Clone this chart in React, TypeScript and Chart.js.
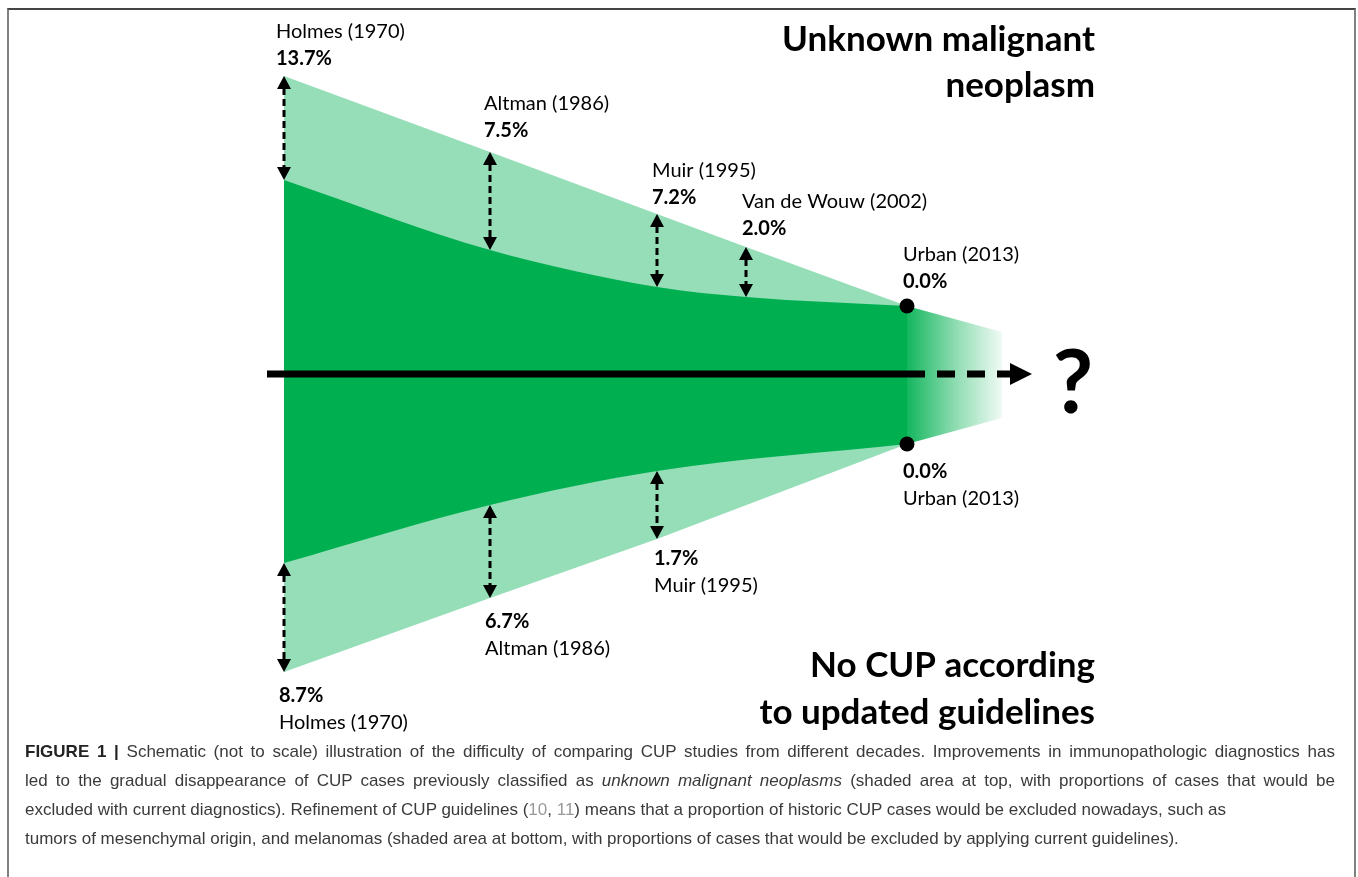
import React, { useEffect, useRef } from 'react';
import { Chart, registerables } from 'chart.js';

Chart.register(...registerables);

// ---- data (schematic, not to scale) ----
const studies = ['Holmes (1970)', 'Altman (1986)', 'Muir (1995)', 'Van de Wouw (2002)', 'Urban (2013)'];
const studyPos = [0, 206, 373, 462, 623];
const topPct: (number | null)[] = [13.7, 7.5, 7.2, 2.0, 0.0];
const bottomPct: (number | null)[] = [8.7, 6.7, 1.7, null, 0.0];
const topOuter = [298, 222, 160, 127, 68];
const topInner = [194, 124, 87, 77, 68];
const bottomInner: (number | null)[] = [-189, -131, -97, null, -70];
const bottomOuter: (number | null)[] = [-298, -224, -165, null, -70];
const fadePos = [623, 718];
const fadeTop = [68, 42];
const fadeBottom = [-70, -44];
const axisPos = [-17, 623, 748];

const DARK = 'rgb(0,176,80)';
const LIGHT = 'rgb(149,222,184)';

const pts = (xs: number[], ys: (number | null)[]) =>
  xs.map((x, i) => (ys[i] == null ? null : { x, y: ys[i] as number })).filter(Boolean) as { x: number; y: number }[];

const fmt = (v: number) => v.toFixed(1) + '%';

const annotations = {
  id: 'annotations',
  afterDatasetsDraw(chart: any, _args: any, opts: any) {
    const { ctx, scales } = chart;
    const X = (v: number) => scales.x.getPixelForValue(v);
    const Y = (v: number) => scales.y.getPixelForValue(v);
    ctx.save();

    // axis arrow head
    const tip = X(axisPos[2]);
    const ay = Y(0);
    ctx.fillStyle = '#000';
    ctx.beginPath();
    ctx.moveTo(tip, ay);
    ctx.lineTo(tip - 22, ay - 11);
    ctx.lineTo(tip - 22, ay + 11);
    ctx.closePath();
    ctx.fill();

    const vArrow = (xv: number, a: number, b: number) => {
      const px = X(xv);
      const top = Math.min(Y(a), Y(b));
      const bot = Math.max(Y(a), Y(b));
      const h = 13, w = 7;
      ctx.strokeStyle = '#000';
      ctx.lineWidth = 3;
      ctx.setLineDash([7, 4]);
      ctx.beginPath();
      ctx.moveTo(px, top + h - 1);
      ctx.lineTo(px, bot - h + 1);
      ctx.stroke();
      ctx.setLineDash([]);
      ctx.beginPath();
      ctx.moveTo(px, top);
      ctx.lineTo(px - w, top + h);
      ctx.lineTo(px + w, top + h);
      ctx.closePath();
      ctx.fill();
      ctx.beginPath();
      ctx.moveTo(px, bot);
      ctx.lineTo(px - w, bot - h);
      ctx.lineTo(px + w, bot - h);
      ctx.closePath();
      ctx.fill();
    };
    const dot = (xv: number, yv: number) => {
      ctx.beginPath();
      ctx.arc(X(xv), Y(yv), 7.5, 0, Math.PI * 2);
      ctx.fill();
    };

    ctx.textBaseline = 'alphabetic';
    ctx.textAlign = 'left';
    studies.forEach((name, i) => {
      const p = topPct[i];
      if (p != null) {
        if (p > 0) vArrow(studyPos[i], topOuter[i], topInner[i]);
        else dot(studyPos[i], topOuter[i]);
        const lx = X(studyPos[i]) + opts.topDx[i];
        const base = Y(topOuter[i]) - opts.topLift[i];
        ctx.fillStyle = '#000';
        ctx.font = 'bold 20px Lato';
        ctx.fillText(fmt(p), lx, base);
        ctx.font = '20px Lato';
        ctx.fillText(name, lx, base - 27);
      }
      const q = bottomPct[i];
      if (q != null) {
        const bo = bottomOuter[i] as number;
        const bi = bottomInner[i] as number;
        if (q > 0) vArrow(studyPos[i], bo, bi);
        else dot(studyPos[i], bo);
        const lx = X(studyPos[i]) + opts.botDx[i];
        const base = Y(bo) + opts.botDrop[i];
        ctx.fillStyle = '#000';
        ctx.font = 'bold 20px Lato';
        ctx.fillText(fmt(q), lx, base);
        ctx.font = '20px Lato';
        ctx.fillText(name, lx, base + 27);
      }
    });

    // titles
    ctx.fillStyle = '#000';
    ctx.textAlign = 'right';
    ctx.font = 'bold 35px Lato';
    opts.titles.forEach((t: any) => ctx.fillText(t.text, X(t.x), Y(t.y)));
    ctx.textAlign = 'center';
    ctx.font = 'bold 88px Lato';
    ctx.fillText('?', X(opts.q.x), Y(opts.q.y));
    ctx.restore();
  },
};

function FigureChart() {
  const ref = useRef<HTMLCanvasElement | null>(null);
  useEffect(() => {
    if (!ref.current) return;
    const fadeFill = (c: any) => {
      const ch = c.chart;
      if (!ch.chartArea) return DARK;
      const x0 = ch.scales.x.getPixelForValue(fadePos[0]);
      const x1 = ch.scales.x.getPixelForValue(fadePos[1]);
      const g = ch.ctx.createLinearGradient(x0, 0, x1, 0);
      g.addColorStop(0, 'rgba(0,176,80,0.92)');
      g.addColorStop(0.5, 'rgba(0,176,80,0.45)');
      g.addColorStop(1, 'rgba(0,176,80,0.06)');
      return g;
    };
    const area = (data: any, color: any, order: number, monotone: boolean) => ({
      data,
      fill: 'origin',
      backgroundColor: color,
      borderWidth: 0,
      borderColor: 'rgba(0,0,0,0)',
      pointRadius: 0,
      order,
      tension: monotone ? 0.4 : 0,
      cubicInterpolationMode: monotone ? 'monotone' : 'default',
    });
    const chart = new Chart(ref.current, {
      type: 'line',
      data: {
        datasets: [
          area(pts(studyPos, topOuter), LIGHT, 5, false),
          area(pts(studyPos, bottomOuter), LIGHT, 5, false),
          area(pts(studyPos, topInner), DARK, 4, true),
          area(pts(studyPos, bottomInner), DARK, 4, true),
          area(pts(fadePos, fadeTop), fadeFill, 4, false),
          area(pts(fadePos, fadeBottom), fadeFill, 4, false),
          {
            data: [{ x: axisPos[0], y: 0 }, { x: axisPos[1], y: 0 }],
            borderColor: '#000',
            borderWidth: 7,
            pointRadius: 0,
            fill: false,
            order: 1,
          },
          {
            data: [{ x: axisPos[1], y: 0 }, { x: axisPos[2] - 22, y: 0 }],
            borderColor: '#000',
            borderWidth: 7,
            borderDash: [18, 12],
            pointRadius: 0,
            fill: false,
            order: 1,
          },
        ] as any,
      },
      options: {
        animation: false,
        responsive: false,
        events: [],
        layout: { padding: 0 },
        scales: {
          x: { type: 'linear', min: -284, max: 1074, display: false },
          y: { type: 'linear', min: -366, max: 374, display: false },
        },
        plugins: {
          legend: { display: false },
          tooltip: { enabled: false },
          annotations: {
            topDx: [-8, -6, -5, -4, -4],
            topLift: [11, 15, 10, 12, 18],
            botDx: [-5, -5, -3, -4, -4],
            botDrop: [30, 30, 26, 26, 34],
            titles: [
              { text: 'Unknown malignant', x: 811, y: 323 },
              { text: 'neoplasm', x: 811, y: 277 },
              { text: 'No CUP according', x: 811, y: -303 },
              { text: 'to updated guidelines', x: 811, y: -350 },
            ],
            q: { x: 789, y: -39 },
          },
        } as any,
      },
      plugins: [annotations],
    });
    return () => chart.destroy();
  }, []);
  return <canvas ref={ref} width={1358} height={740} style={{ position: 'absolute', left: 0, top: 0, width: 1358, height: 740 }} />;
}

const justified: React.CSSProperties = { textAlign: 'justify', textAlignLast: 'justify' as any, whiteSpace: 'normal' };

export default function App() {
  return (
    <div style={{ position: 'fixed', left: 0, top: 0, width: 1358, height: 877, background: '#fff', overflow: 'hidden' }}>
      <div
        style={{
          position: 'absolute',
          left: 7,
          top: 8,
          width: 1349,
          height: 900,
          boxSizing: 'border-box',
          borderTop: '2px solid #444',
          borderLeft: '2px solid #808080',
          borderRight: '2px solid #808080',
        }}
      />
      <FigureChart />
      <div
        style={{
          position: 'absolute',
          left: 25,
          top: 737,
          width: 1310,
          fontFamily: '"Liberation Sans", Arial, sans-serif',
          fontSize: 17,
          lineHeight: '29px',
          color: '#3a3a3a',
          whiteSpace: 'nowrap',
        }}
      >
        <div style={justified}>
          <b style={{ color: '#222' }}>FIGURE 1 |</b> Schematic (not to scale) illustration of the difficulty of comparing CUP studies from different decades. Improvements in immunopathologic diagnostics has
        </div>
        <div style={justified}>
          led to the gradual disappearance of CUP cases previously classified as <i>unknown malignant neoplasms</i> (shaded area at top, with proportions of cases that would be
        </div>
        <div>
          excluded with current diagnostics). Refinement of CUP guidelines (<span style={{ color: '#999' }}>10</span>, <span style={{ color: '#999' }}>11</span>) means that a proportion of historic CUP cases would be excluded nowadays, such as
        </div>
        <div>
          tumors of mesenchymal origin, and melanomas (shaded area at bottom, with proportions of cases that would be excluded by applying current guidelines).
        </div>
      </div>
    </div>
  );
}
